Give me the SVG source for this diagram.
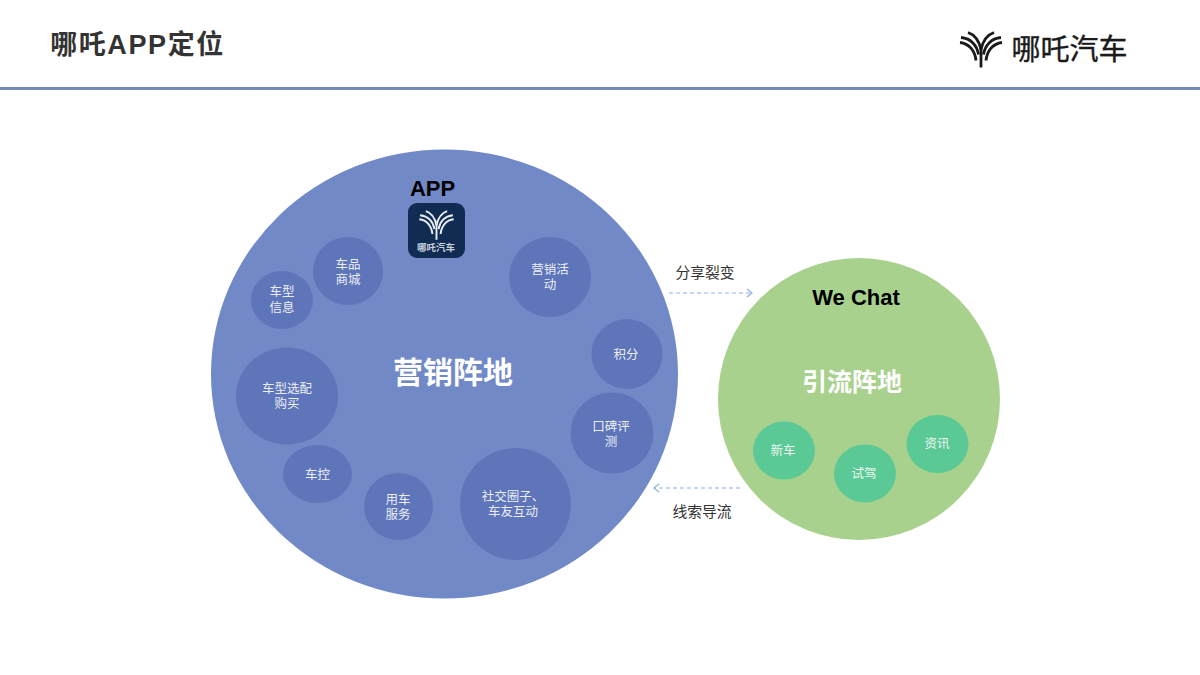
<svg xmlns="http://www.w3.org/2000/svg" width="1200" height="675" viewBox="0 0 1200 675">
<style>
text{font-family:"Liberation Sans","Noto Sans CJK SC",sans-serif;text-anchor:middle}
.s{fill:#fff;font-size:12.500px;fill-opacity:.9}
.b{fill:#5e75ba}
.g{fill:#5bc995}
.k{fill:#000;font-weight:700}
.l{fill:#333;font-size:14.800px}
.lk{fill:none;stroke:#8fb0e0;stroke-width:1.2}
.logo{fill:none;stroke-linecap:butt}
</style>
<defs>
<marker id="a" markerWidth="10" markerHeight="10" refX="8" refY="5" orient="auto" markerUnits="userSpaceOnUse"><path d="M3 1L8 5L3 9" fill="none" stroke="#8fb0e0" stroke-width="1.2"/></marker>
<g id="mark" class="logo">
<path d="M-21 -7C-12 -6 -6 1 -5 11"/>
<path d="M-20 -12C-10 -11 -4 -4 -2.500 5"/>
<path d="M-13 -17C-7 -15 -2 -9 0 0"/>
<path d="M21 -7C12 -6 6 1 5 11"/>
<path d="M20 -12C10 -11 4 -4 2.500 5"/>
<path d="M13 -17C7 -15 2 -9 0 0"/>
<path d="M0 -2V18"/>
</g>
</defs>
<rect width="1200" height="675" fill="#fff"/>
<g id="header">
<text x="137.500" y="54" style="font-size:27px;font-weight:700;fill:#333;letter-spacing:1.600px">哪吒APP定位</text>
<rect x="0" y="87" width="1200" height="3" fill="#7189bd"/>
<g id="brand">
<use href="#mark" x="981" y="49.500" stroke="#1a1a1a" stroke-width="2.800"/>
<text x="1069.500" y="60" style="font-size:29px;fill:#1a1a1a;stroke:#1a1a1a;stroke-width:.4">哪吒汽车</text>
</g>
</g>
<g id="connectors">
<path class="lk" d="M669 293H752" stroke-dasharray="4 3" marker-end="url(#a)"/>
<path class="lk" d="M740 488H654" stroke-dasharray="4 3" marker-end="url(#a)"/>
</g>
<g id="app-circle">
<ellipse cx="444.500" cy="374" rx="233.500" ry="224.500" fill="#7189c6"/>
<text x="432.500" y="196" class="k" style="font-size:22px">APP</text>
<rect x="408" y="203" width="57" height="55" rx="9" fill="#102c52"/>
<use href="#mark" x="0" y="0" stroke="#e8edf3" stroke-width="2.400" transform="translate(436.500 225) scale(.82)"/>
<text x="436" y="251" style="font-size:9.500px;fill:#c9d2de;font-weight:700">哪吒汽车</text>
<text x="453" y="383" style="font-size:30px;font-weight:700;fill:#fff">营销阵地</text>
</g>
<g id="n1"><ellipse class="b" cx="348" cy="271" rx="35" ry="34"/><text class="s" x="348" y="269">车品</text><text class="s" x="348" y="284">商城</text></g>
<g id="n2"><ellipse class="b" cx="282" cy="300" rx="31" ry="29"/><text class="s" x="282" y="296">车型</text><text class="s" x="282" y="312">信息</text></g>
<g id="n3"><ellipse class="b" cx="550" cy="277" rx="41" ry="40"/><text class="s" x="550" y="274">营销活</text><text class="s" x="550" y="289">动</text></g>
<g id="n4"><ellipse class="b" cx="627" cy="354" rx="35.500" ry="35"/><text class="s" x="626" y="359">积分</text></g>
<g id="n5"><ellipse class="b" cx="612" cy="433" rx="41.500" ry="40.500"/><text class="s" x="611" y="431">口碑评</text><text class="s" x="611" y="446">测</text></g>
<g id="n6"><ellipse class="b" cx="287" cy="396" rx="51" ry="48.500"/><text class="s" x="287" y="393">车型选配</text><text class="s" x="287" y="408">购买</text></g>
<g id="n7"><ellipse class="b" cx="317.500" cy="474" rx="34.500" ry="29"/><text class="s" x="317.500" y="479">车控</text></g>
<g id="n8"><ellipse class="b" cx="398.500" cy="506.500" rx="34.500" ry="33.500"/><text class="s" x="398" y="504">用车</text><text class="s" x="398" y="519">服务</text></g>
<g id="n9"><ellipse class="b" cx="515.500" cy="504" rx="55.500" ry="56"/><text class="s" x="513" y="501">社交圈子、</text><text class="s" x="513" y="516">车友互动</text></g>
<g id="wechat-circle">
<circle cx="859" cy="399" r="141" fill="#a9d18e"/>
<text x="856" y="305" class="k" style="font-size:22px">We Chat</text>
<text x="852" y="391" style="font-size:25px;font-weight:700;fill:#fff">引流阵地</text>
</g>
<g id="n10"><ellipse class="g" cx="784" cy="450.500" rx="31" ry="29"/><text class="s" x="783" y="455">新车</text></g>
<g id="n11"><ellipse class="g" cx="865" cy="473.500" rx="31" ry="29"/><text class="s" x="864" y="478">试驾</text></g>
<g id="n12"><ellipse class="g" cx="937.500" cy="444" rx="31" ry="29"/><text class="s" x="937" y="448">资讯</text></g>
<g id="labels">
<text x="705" y="277.500" class="l">分享裂变</text>
<text x="702" y="517" class="l">线索导流</text>
</g>
</svg>
